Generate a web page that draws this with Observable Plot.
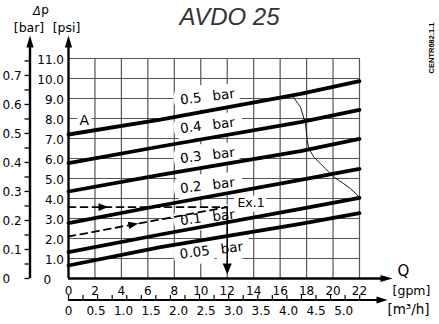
<!DOCTYPE html>
<html>
<head>
<meta charset="utf-8">
<script src="https://cdn.jsdelivr.net/npm/d3@7"></script>
<script src="https://cdn.jsdelivr.net/npm/@observablehq/plot@0.6"></script>
<style>
  html, body { margin: 0; padding: 0; background: white; }
  svg { display: block; }
</style>
</head>
<body>
<div id="chart"></div>
<script>
// ---------- data ----------
const flowQ = [0, 6.95, 17.54, 22];           // gpm sample points along each Δp line
const dpLabels = ["0.5 bar", "0.4 bar", "0.3 bar", "0.2 bar", "0.1 bar", "0.05 bar"];
const dp05  = [7.20, 7.94, 9.23, 9.87];       // psi
const dp04  = [5.77, 6.60, 7.82, 8.43];
const dp03  = [4.35, 5.18, 6.37, 6.98];
const dp02  = [2.77, 3.65, 4.93, 5.48];
const dp01  = [1.32, 2.20, 3.48, 4.03];
const dp005 = [0.65, 1.57, 2.73, 3.27];
const labelQ   = [10.5, 10.5, 10.5, 10.5, 10.5, 10.8];
const labelPsi = [9.08, 7.65, 6.15, 4.65, 3.05, 1.40];

const curveQ   = [16.91, 17.54, 17.92, 18.05, 18.17, 18.55, 19.05, 19.43, 20.06, 20.81, 21.32, 22.0];
const curvePsi = [9.15, 8.57, 7.74, 6.90, 6.49, 6.07, 5.74, 5.49, 5.07, 4.74, 4.49, 4.07];

const exQ = 12, exPsi = 3.57;                 // example 1 operating point
const dashSlantQ = [0, 12], dashSlantPsi = [2.1, 3.57];
const dashFlatQ  = [0, 12], dashFlatPsi  = [3.57, 3.57];

const annotText = ["A", "Ex.1"];
const annotQ    = [1.2, 13.8];
const annotPsi  = [7.9, 3.8];

const gpmTicks  = [0, 2, 4, 6, 8, 10, 12, 14, 16, 18, 20, 22];
const psiTicks  = [0, 1, 2, 3, 4, 5, 6, 7, 8, 9, 10, 11];
const psiLabels = ["0", "1.0", "2.0", "3.0", "4.0", "5.0", "6.0", "7.0", "8.0", "9.0", "10.0", "11.0"];
const barTicks  = [0, 0.1, 0.2, 0.3, 0.4, 0.5, 0.6, 0.7];
const barLabels = ["0", "0.1", "0.2", "0.3", "0.4", "0.5", "0.6", "0.7"];
const barMinor  = [0.05, 0.15, 0.25, 0.35, 0.45, 0.55, 0.65, 0.75];
const m3hTicks  = [0, 0.5, 1.0, 1.5, 2.0, 2.5, 3.0, 3.5, 4.0, 4.5, 5.0];
const m3hLabels = ["0", "0.5", "1.0", "1.5", "2.0", "2.5", "3.0", "3.5", "4.0", "4.5", "5.0"];
const m3hMinor  = d3.range(0, 5.01, 0.25);

const PSI_PER_BAR = 14.5038;
const GPM_PER_M3H = 4.4029;

// ---------- layout helpers (pixel -> data units for decorations) ----------
const X0 = 68, X1 = 359, Y0 = 278, Y1 = 58;
const xpx = p => (p - X0) / (X1 - X0) * 22;
const ypx = p => (Y0 - p) / (Y0 - Y1) * 11;

const lineRows = [];
[dp05, dp04, dp03, dp02, dp01, dp005].forEach((s, k) =>
  flowQ.forEach((q, i) => lineRows.push({q, psi: s[i], dp: dpLabels[k]})));
const curveRows = curveQ.map((q, i) => ({q, psi: curvePsi[i]}));
const slantRows = dashSlantQ.map((q, i) => ({q, psi: dashSlantPsi[i]}));
const flatRows  = dashFlatQ.map((q, i) => ({q, psi: dashFlatPsi[i]}));

const GRID = "#555";
const FONT = "DejaVu Sans, sans-serif";
const halo = {stroke: "white", strokeWidth: 15, strokeLinejoin: "round", paintOrder: "stroke", fill: "black"};
const spike = {shape: "spike", anchor: "start", fill: "black", stroke: "none"};
const slantDeg = Math.atan(((dashSlantPsi[1]-dashSlantPsi[0])/12 * 20) / 13.227) * 180 / Math.PI;

const chart = Plot.plot({
  width: 439, height: 324,
  marginLeft: X0, marginRight: 439 - X1, marginTop: Y1, marginBottom: 324 - Y0,
  x: {domain: [0, 22], axis: null},
  y: {domain: [0, 11], axis: null},
  style: {fontFamily: FONT, background: "white", color: "black", overflow: "visible"},
  marks: [
    // grid
    Plot.ruleY(psiTicks.filter(d => d > 0), {y: d => d, x1: 0, x2: 22, stroke: GRID, strokeWidth: 1.2}),
    Plot.ruleX(gpmTicks.filter(d => d > 0), {x: d => d, y1: 0, y2: 11, stroke: GRID, strokeWidth: 1.2}),

    // labels with white background
    Plot.text(dpLabels, {x: (d, i) => labelQ[i], y: (d, i) => labelPsi[i],
      text: d => d.replace(" ", "\u2002\u00a0"), rotate: -7, fontSize: 13.5, ...halo}),
    Plot.text(annotText, {x: (d, i) => annotQ[i], y: (d, i) => annotPsi[i], text: d => d,
      fontSize: (d, i) => i === 0 ? 14 : 12.5, ...halo, strokeWidth: 9}),

    // Δp lines
    Plot.line(lineRows, {x: "q", y: "psi", z: "dp", stroke: "black", strokeWidth: 3.8}),

    // thin limit curve
    Plot.line(curveRows, {x: "q", y: "psi", stroke: "black", strokeWidth: 0.9}),

    // example construction
    Plot.line(flatRows, {x: "q", y: "psi", stroke: "black", strokeWidth: 1.8, strokeDasharray: "7,5"}),
    Plot.line(slantRows, {x: "q", y: "psi", stroke: "black", strokeWidth: 1.8, strokeDasharray: "7,5"}),
    Plot.ruleX([exQ], {x: d => d, y1: ypx(264), y2: exPsi, stroke: "black", strokeWidth: 1.6}),
    Plot.vector([exQ], {x: d => d, y: ypx(263), rotate: 180, length: 11, r: 4.5, ...spike}),
    Plot.vector([0], {x: xpx(98), y: dashFlatPsi[0], rotate: 90, length: 10, r: 3.8, ...spike}),
    Plot.vector([0], {x: xpx(128), y: dashSlantPsi[0] + (dashSlantPsi[1]-dashSlantPsi[0]) * xpx(128) / 12,
      rotate: 90 - slantDeg, length: 10, r: 3.8, ...spike}),

    // left axes
    Plot.ruleX([xpx(29.5)], {x: d => d, y1: 0, y2: ypx(46), stroke: "black", strokeWidth: 2.4}),
    Plot.vector([0], {x: xpx(29.5), y: ypx(47), rotate: 0, length: 12, r: 3.6, ...spike}),
    Plot.ruleY([...barTicks, ...barMinor], {y: d => d * PSI_PER_BAR, x1: xpx(24.5), x2: xpx(29.5), stroke: "black", strokeWidth: 1.3}),
    Plot.text(barTicks, {x: xpx(2), y: d => d * PSI_PER_BAR, dy: 1, text: (d, i) => barLabels[i],
      textAnchor: "start", fontSize: 12}),

    Plot.ruleX([0], {x: d => d, y1: 0, y2: ypx(46), stroke: "black", strokeWidth: 2.4}),
    Plot.vector([0], {x: 0, y: ypx(47), rotate: 0, length: 12, r: 3.6, ...spike}),
    Plot.text(psiTicks.filter(d => d > 0), {x: xpx(63.5), y: d => d, dy: 1.5, text: d => psiLabels[d],
      textAnchor: "end", fontSize: 12}),
    Plot.text([0], {x: xpx(43), y: 0, dy: 1.5, text: d => psiLabels[d], textAnchor: "start", fontSize: 12}),

    // bottom axes
    Plot.ruleY([0], {y: d => d, x1: 0, x2: xpx(381), stroke: "black", strokeWidth: 2.4}),
    Plot.vector([0], {x: xpx(380), y: 0, rotate: 90, length: 12, r: 3.6, ...spike}),
    Plot.text(gpmTicks, {x: d => d, y: ypx(290.5), text: d => String(d), fontSize: 12}),

    Plot.ruleY([0], {y: ypx(299.5), x1: 0, x2: xpx(377), stroke: "black", strokeWidth: 2.2}),
    Plot.vector([0], {x: xpx(376), y: ypx(299.5), rotate: 90, length: 11, r: 3.4, ...spike}),
    Plot.ruleX(m3hMinor, {x: d => d * GPM_PER_M3H, y1: ypx(299.5), y2: ypx(295), stroke: "black", strokeWidth: 1.2}),
    Plot.text(m3hTicks, {x: d => d * GPM_PER_M3H * 0.945, y: ypx(310.5), text: (d, i) => m3hLabels[i], fontSize: 12}),

    // axis titles
    Plot.text(["Δ"], {x: xpx(36.5), y: ypx(11), text: d => d, fontSize: 11.5, fontStyle: "italic"}),
    Plot.text(["p"], {x: xpx(44.5), y: ypx(10), text: d => d, fontSize: 12}),
    Plot.text(["[bar]"], {x: xpx(28.5), y: ypx(27.5), text: d => d, fontSize: 12.5}),
    Plot.text(["[psi]"], {x: xpx(66), y: ypx(27.5), text: d => d, fontSize: 12.5}),
    Plot.text(["Q"], {x: xpx(403), y: ypx(270.5), text: d => d, fontSize: 15}),
    Plot.text(["[gpm]"], {x: xpx(411), y: ypx(290), text: d => d, fontSize: 12.5}),
    Plot.text(["[m³/h]"], {x: xpx(408), y: ypx(309.5), text: d => d, fontSize: 13.5}),

    // title and code
    Plot.text(["AVDO 25"], {x: xpx(229), y: ypx(17), text: d => d, fontSize: 24, fontStyle: "italic",
      fontFamily: "Liberation Sans, Arial, sans-serif", fill: "#333"}),
    Plot.text(["CENTR682.1.1"], {x: xpx(431), y: ypx(47.5), text: d => d, rotate: -90, fontSize: 7.5,
      fontWeight: "bold", fontFamily: "Liberation Sans, Arial, sans-serif"})
  ]
});
document.getElementById("chart").appendChild(chart);
</script>
</body>
</html>
